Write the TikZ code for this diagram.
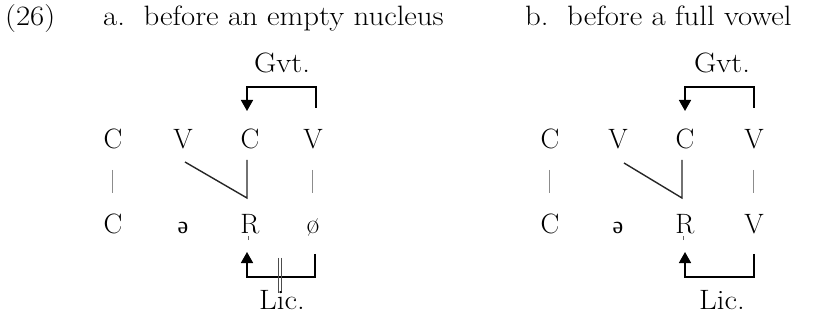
\documentclass[tikz,border=0pt]{standalone}
\usepackage{fontspec}
\newfontfamily\ipafont{Liberation Serif}
\usetikzlibrary{arrows.meta,calc}
\newcommand\sylR{\ooalign{R\cr\hidewidth\textcolor{black!60}{\rule[-6pt]{0.8pt}{4pt}}\hspace{3pt}\hidewidth\cr}}
\newcommand\wide[1]{\scalebox{1.1}[1]{#1}}
\begin{document}
\begin{tikzpicture}[x=1pt,y=-1pt,
  every node/.style={font=\fontsize{28}{32}\selectfont, inner sep=0pt},
  seg/.style={anchor=base},
  assoc/.style={draw=black!45, line width=0.9pt},
  link/.style={draw=black!85, line width=1.4pt},
  arc/.style={draw=black, line width=1.6pt, -{Triangle[width=12pt,length=11pt]}},
  bar/.style={draw=black!70, line width=1pt},
  ]
\useasboundingbox (0,0) rectangle (814,323);
\node[anchor=base west] (num) at (5,26) {\wide{(26)}};
\node[anchor=base west] (ta) at (103,26) {\wide{a.\ \ before an empty nucleus}};
\node[anchor=base west] (tb) at (525,26) {\wide{b.\ \ before a full vowel}};

% (a)
\node[seg] (a1) at (113,149) {C};
\node[seg] (a2) at (183,149) {V};
\node[seg] (a3) at (250,149) {C};
\node[seg] (a4) at (313,149) {V};
\node[seg] (b1) at (113,234) {C};
\node[seg] (b2) at (183,234) {\ipafont\fontsize{24}{28}\selectfont ə};
\node[seg] (b3) at (250,234) {\sylR};
\node[seg] (b4) at (313,234) {ø};
\draw[assoc] ($(a1.base)+(-1,21)$) -- ($(b1.base)+(-1,-41)$);
\draw[assoc] ($(a4.base)+(-1,21)$) -- ($(b4.base)+(-1,-41)$);
\draw[link] ($(a2.base)+(2,13)$) -- ($(b3.base)+(-3,-36)$) -- ($(a3.base)+(-3,11)$);
\draw[arc] ($(a4.base)+(3,-41)$) |- ($(a3.base)+(-3,-62)$) -- ($(a3.base)+(-3,-38)$);
\draw[arc] ($(b4.base)+(2,20)$) |- ($(b3.base)+(-3,43)$) -- ($(b3.base)+(-3,18)$);
\draw[bar] ($(b3.base)+(28,24)$) -- ++(0,35);
\draw[bar] ($(b3.base)+(31,24)$) -- ++(0,35);
\node (gvta) at (282,63) {\wide{Gvt.}};
\node (lica) at (282,300) {\wide{Lic.}};

% (b)
\node[seg] (c1) at (550,149) {C};
\node[seg] (c2) at (618,149) {V};
\node[seg] (c3) at (685,149) {C};
\node[seg] (c4) at (754,149) {V};
\node[seg] (d1) at (550,234) {C};
\node[seg] (d2) at (618,234) {\ipafont\fontsize{24}{28}\selectfont ə};
\node[seg] (d3) at (685,234) {\sylR};
\node[seg] (d4) at (754,234) {V};
\draw[assoc] ($(c1.base)+(-1,21)$) -- ($(d1.base)+(-1,-41)$);
\draw[assoc] ($(c4.base)+(-1,21)$) -- ($(d4.base)+(-1,-41)$);
\draw[link] ($(c2.base)+(6,14)$) -- ($(d3.base)+(-3,-36)$) -- ($(c3.base)+(-3,11)$);
\draw[arc] ($(c4.base)+(0,-41)$) |- ($(c3.base)+(0,-62)$) -- ($(c3.base)+(0,-38)$);
\draw[arc] ($(d4.base)+(0,20)$) |- ($(d3.base)+(0,43)$) -- ($(d3.base)+(0,18)$);
\node (gvtb) at (722,63) {\wide{Gvt.}};
\node (licb) at (722,300) {\wide{Lic.}};
\end{tikzpicture}
\end{document}
